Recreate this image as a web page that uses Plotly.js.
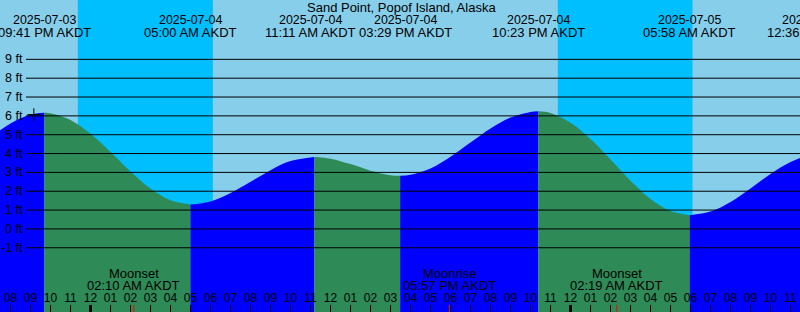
<!DOCTYPE html>
<html><head><meta charset="utf-8">
<script src="https://cdn.plot.ly/plotly-3.0.1.min.js"></script>
<style>html,body{margin:0;padding:0;background:#87CEEB}#chart{width:800px;height:312px}</style>
</head><body><div id="chart"></div>
<script>
// ---------- data ----------
const stationName = 'Sand Point, Popof Island, Alaska';

const sampleTimes = [
  '2025-07-03 19:00','2025-07-03 20:00','2025-07-03 21:00','2025-07-03 21:41','2025-07-03 22:00','2025-07-03 23:00',
  '2025-07-04 00:00','2025-07-04 01:00','2025-07-04 02:00','2025-07-04 03:00','2025-07-04 04:00','2025-07-04 05:00',
  '2025-07-04 06:00','2025-07-04 07:00','2025-07-04 08:00','2025-07-04 09:00','2025-07-04 10:00','2025-07-04 11:11',
  '2025-07-04 12:00','2025-07-04 13:00','2025-07-04 14:00','2025-07-04 15:00','2025-07-04 15:29',
  '2025-07-04 16:00','2025-07-04 17:00','2025-07-04 18:00','2025-07-04 19:00','2025-07-04 20:00','2025-07-04 21:00','2025-07-04 22:00','2025-07-04 22:23',
  '2025-07-04 23:00','2025-07-05 00:00','2025-07-05 01:00','2025-07-05 02:00','2025-07-05 03:00','2025-07-05 04:00','2025-07-05 05:00','2025-07-05 05:58',
  '2025-07-05 07:00','2025-07-05 08:00','2025-07-05 09:00','2025-07-05 10:00','2025-07-05 11:00','2025-07-05 12:00','2025-07-05 12:36'
];
const sampleHeights = [
  4.85, 5.60, 6.06, 6.16, 6.14, 5.78,
  5.05, 4.08, 3.05, 2.14, 1.52, 1.30,
  1.46, 1.90, 2.50, 3.12, 3.60, 3.82,
  3.73, 3.44, 3.09, 2.85, 2.82,
  2.87, 3.21, 3.83, 4.58, 5.33, 5.91, 6.21, 6.24,
  6.15, 5.64, 4.77, 3.69, 2.56, 1.59, 0.95, 0.73,
  0.92, 1.43, 2.15, 2.91, 3.55, 3.93, 4.00
];

const eventTimes = ['2025-07-03 21:41','2025-07-04 05:00','2025-07-04 11:11','2025-07-04 15:29','2025-07-04 22:23','2025-07-05 05:58','2025-07-05 12:36'];
const eventDates = ['2025-07-03','2025-07-04','2025-07-04','2025-07-04','2025-07-04','2025-07-05','2025-07-05'];
const eventTimeLabels = ['09:41 PM AKDT','05:00 AM AKDT','11:11 AM AKDT','03:29 PM AKDT','10:23 PM AKDT','05:58 AM AKDT','12:36 PM AKDT'];

const nightStarts = ['2025-07-03 23:22','2025-07-04 23:22'];
const nightEnds   = ['2025-07-04 06:07','2025-07-05 06:06'];

const moonTimes = ['2025-07-04 02:10','2025-07-04 17:57','2025-07-05 02:19'];
const moonNames = ['Moonset','Moonrise','Moonset'];
const moonTimeLabels = ['02:10 AM AKDT','05:57 PM AKDT','02:19 AM AKDT'];

const midnights = ['2025-07-04 00:00','2025-07-05 00:00'];
const heightTicks = [-1,0,1,2,3,4,5,6,7,8,9];
const nowTime = ['2025-07-03 21:10'];
const nowHeight = [6.07];

// ---------- styling ----------
const FONT = 'Liberation Sans, Arial, sans-serif';
const DAY = '#87CEEB', NIGHT = '#00BFFF', RISING = '#0000FF', FALLING = '#2E8B57';
const xRange = ['2025-07-03 19:28:30','2025-07-05 11:28:30'];
const yRange = [-4.41, 12.15];
const W = 800, H = 312;
const labelShift = [0,0,-4,5,0,0,-9.5];

function ms(s){ return Date.parse(s.replace(' ','T') + (s.length === 16 ? ':00Z' : 'Z')); }
function toPaper(s){ return (ms(s) - ms(xRange[0])) / (ms(xRange[1]) - ms(xRange[0])); }

// split the tide curve into rising / falling segments at the extrema
const traces = [];
let seg = [0];
const breaks = new Set(eventTimes);
for (let i = 1; i < sampleTimes.length; i++) {
  seg.push(i);
  if (breaks.has(sampleTimes[i]) || i === sampleTimes.length - 1) {
    const sx = seg.map(k => sampleTimes[k]);
    const sy = seg.map(k => sampleHeights[k]);
    const col = sy[sy.length-1] > sy[0] ? RISING : FALLING;
    traces.push({x: sx, y: sx.map(() => yRange[0] - 1), type: 'scatter', mode: 'lines',
      line: {width: 0}, hoverinfo: 'skip', showlegend: false});
    traces.push({x: sx, y: sy, type: 'scatter', mode: 'lines',
      line: {width: 0, shape: 'spline', color: col}, fill: 'tonexty', fillcolor: col,
      hoverinfo: 'skip', showlegend: false});
    seg = [i];
  }
}
traces.push({x: nowTime, y: nowHeight, type: 'scatter', mode: 'markers',
  marker: {symbol: 'cross-thin', size: 9, line: {width: 1, color: '#000'}, color: '#000'},
  hoverinfo: 'skip', showlegend: false});

const shapes = [];
nightStarts.forEach((s, i) => shapes.push({type: 'rect', xref: 'x', yref: 'paper', x0: s, x1: nightEnds[i],
  y0: 0, y1: 1, fillcolor: NIGHT, line: {width: 0}, layer: 'below'}));
heightTicks.forEach(v => shapes.push({type: 'line', xref: 'paper', yref: 'y', x0: 26 / W, x1: 1, y0: v, y1: v,
  line: {color: '#000', width: 1}, layer: 'above'}));
midnights.forEach(t => shapes.push({type: 'line', xref: 'x', yref: 'paper', x0: t, x1: t, y0: 0, y1: 7 / H,
  line: {color: '#000', width: 3}, layer: 'above'}));
moonTimes.forEach(t => shapes.push({type: 'line', xref: 'x', yref: 'paper', x0: t, x1: t, y0: 0, y1: 7 / H,
  line: {color: '#FF0000', width: 1}, layer: 'above'}));

const ann = [];
const py = px => 1 - px / H;
ann.push({text: stationName, xref: 'paper', yref: 'paper', x: 401 / W, y: py(7.5), xanchor: 'center', yanchor: 'middle',
  showarrow: false, font: {family: FONT, size: 13, color: '#000'}});
eventTimes.forEach((t, i) => {
  ann.push({text: eventDates[i], xref: 'paper', yref: 'paper', x: toPaper(t), xshift: labelShift[i], y: py(19.5),
    xanchor: 'center', yanchor: 'middle', showarrow: false, font: {family: FONT, size: 12.4, color: '#000'}});
  ann.push({text: eventTimeLabels[i], xref: 'paper', yref: 'paper', x: toPaper(t), xshift: labelShift[i], y: py(32.3),
    xanchor: 'center', yanchor: 'middle', showarrow: false, font: {family: FONT, size: 13, color: '#000'}});
});
moonTimes.forEach((t, i) => {
  ann.push({text: moonNames[i], xref: 'x', yref: 'paper', x: t, y: py(273.3), xanchor: 'center', yanchor: 'middle',
    showarrow: false, font: {family: FONT, size: 13, color: '#000'}});
  ann.push({text: moonTimeLabels[i], xref: 'x', yref: 'paper', x: t, y: py(285.7), xanchor: 'center', yanchor: 'middle',
    showarrow: false, font: {family: FONT, size: 13, color: '#000'}});
});
heightTicks.forEach(v => ann.push({text: v + ' ft', xref: 'paper', yref: 'y', x: 24.5 / W, y: v,
  xanchor: 'right', yanchor: 'middle', showarrow: false, font: {family: FONT, size: 12.5, color: '#000'}}));

const layout = {
  width: W, height: H, margin: {l: 0, r: 0, t: 0, b: 0},
  paper_bgcolor: DAY, plot_bgcolor: DAY, showlegend: false,
  xaxis: {type: 'date', range: xRange, tick0: '2025-07-03 20:00', dtick: 3600000, tickformat: '%I',
    ticks: 'inside', ticklen: 7, tickwidth: 1, tickcolor: '#000', ticklabelposition: 'inside',
    tickfont: {family: FONT, size: 12, color: '#000'}, showgrid: false, zeroline: false, showline: false, fixedrange: true},
  yaxis: {range: yRange, showticklabels: false, showgrid: false, zeroline: false, ticks: '', fixedrange: true},
  shapes: shapes, annotations: ann
};
Plotly.newPlot('chart', traces, layout, {displayModeBar: false, staticPlot: true});
</script></body></html>
